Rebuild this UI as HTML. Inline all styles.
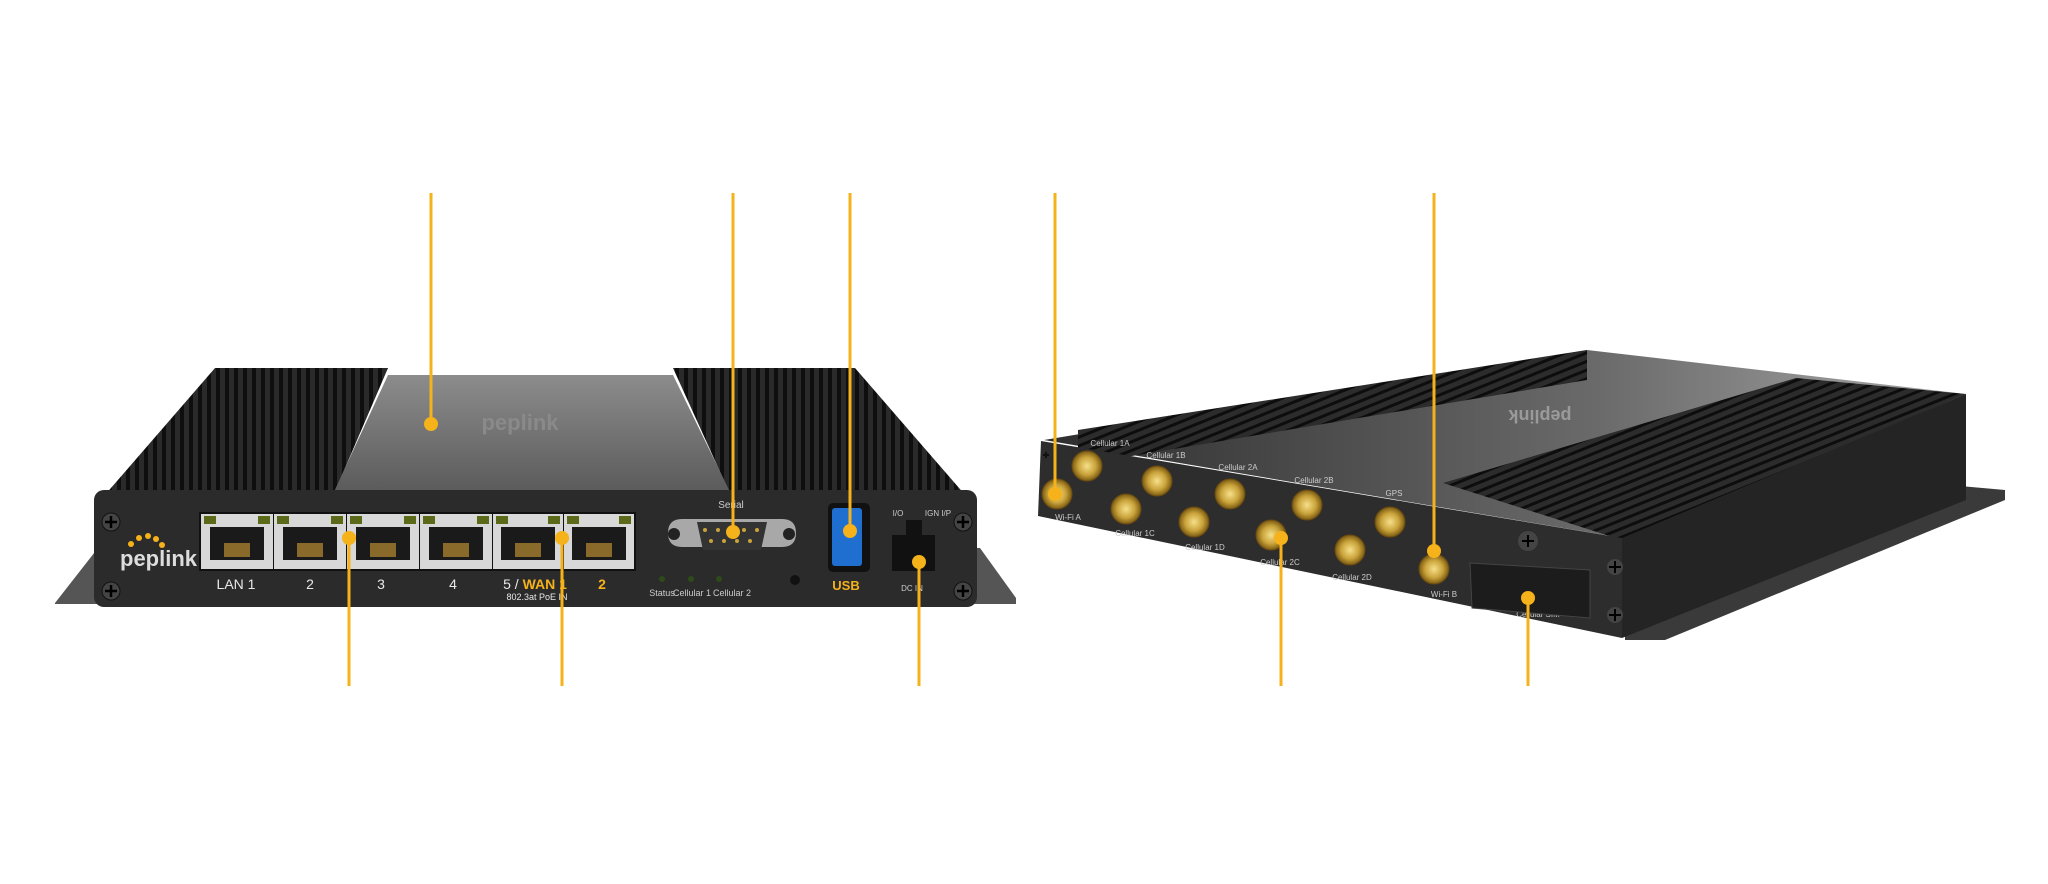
<!DOCTYPE html>
<html><head><meta charset="utf-8"><style>
html,body{margin:0;padding:0;background:#fff;}
svg{display:block;font-family:"Liberation Sans",sans-serif;}
</style></head><body>
<svg width="2048" height="884" viewBox="0 0 2048 884" xmlns="http://www.w3.org/2000/svg">
<defs>
<pattern id="fin" width="9" height="10" patternUnits="userSpaceOnUse"><rect width="9" height="10" fill="#2a2a2a"/><rect width="4" height="10" fill="#0e0e0e"/></pattern>
<pattern id="fin2" width="10" height="8" patternUnits="userSpaceOnUse" patternTransform="rotate(-22)"><rect width="10" height="8" fill="#2c2c2c"/><rect width="10" height="3" fill="#0d0d0d"/></pattern>
<linearGradient id="cover" x1="0" y1="0" x2="0" y2="1"><stop offset="0" stop-color="#8c8c8c"/><stop offset="1" stop-color="#5a5a5a"/></linearGradient>
<linearGradient id="top2" x1="0" y1="0" x2="1" y2="0"><stop offset="0" stop-color="#2e2e2e"/><stop offset="0.6" stop-color="#6a6a6a"/><stop offset="1" stop-color="#a8a8a8"/></linearGradient>
<radialGradient id="gold"><stop offset="0" stop-color="#f6e08a"/><stop offset="0.6" stop-color="#c9a23a"/><stop offset="1" stop-color="#7a5a12"/></radialGradient>
</defs>

<!-- LEFT DEVICE -->
<polygon points="55,603 98,548 980,548 1016,598 1016,604 55,604" fill="#555"/>
<polygon points="215,368 388,368 333,496 104,496" fill="url(#fin)"/>
<polygon points="673,368 855,368 966,496 731,496" fill="url(#fin)"/>
<polygon points="388,375 673,375 731,494 333,494" fill="url(#cover)"/>
<text x="520" y="430" font-size="22" font-weight="bold" fill="#8a8a8a" text-anchor="middle">peplink</text>
<rect x="94" y="490" width="883" height="117" rx="10" fill="#2b2b2b"/>
<!-- screws -->
<g fill="#444" stroke="#111" stroke-width="1">
<circle cx="111" cy="522" r="9"/><circle cx="111" cy="591" r="9"/><circle cx="963" cy="522" r="9"/><circle cx="963" cy="591" r="9"/></g>
<g stroke="#000" stroke-width="2.5"><path d="M105 522h12M111 516v12M105 591h12M111 585v12M957 522h12M963 516v12M957 591h12M963 585v12"/></g>
<!-- logo -->
<g fill="#f5b21a"><circle cx="131" cy="544" r="3"/><circle cx="139" cy="538" r="3"/><circle cx="148" cy="536" r="3"/><circle cx="156" cy="539" r="3"/><circle cx="162" cy="545" r="3"/></g>
<text x="120" y="566" font-size="22" font-weight="bold" fill="#ddd">peplink</text>
<!-- ports -->
<rect x="199" y="512" width="437" height="59" fill="#111"/>
<g id="ports">
<rect x="201" y="514" width="72" height="55" fill="#d8d8d8"/>
<rect x="274" y="514" width="72" height="55" fill="#d8d8d8"/>
<rect x="347" y="514" width="72" height="55" fill="#d8d8d8"/>
<rect x="420" y="514" width="72" height="55" fill="#d8d8d8"/>
<rect x="493" y="514" width="70" height="55" fill="#d8d8d8"/>
<rect x="564" y="514" width="70" height="55" fill="#d8d8d8"/>
</g>
<g fill="#1a1a1a">
<rect x="210" y="527" width="54" height="33"/><rect x="283" y="527" width="54" height="33"/><rect x="356" y="527" width="54" height="33"/><rect x="429" y="527" width="54" height="33"/><rect x="501" y="527" width="54" height="33"/><rect x="572" y="527" width="54" height="33"/></g>
<g fill="#5a6a18">
<rect x="204" y="516" width="12" height="8"/><rect x="258" y="516" width="12" height="8"/><rect x="277" y="516" width="12" height="8"/><rect x="331" y="516" width="12" height="8"/><rect x="350" y="516" width="12" height="8"/><rect x="404" y="516" width="12" height="8"/><rect x="423" y="516" width="12" height="8"/><rect x="477" y="516" width="12" height="8"/><rect x="496" y="516" width="12" height="8"/><rect x="548" y="516" width="12" height="8"/><rect x="567" y="516" width="12" height="8"/><rect x="619" y="516" width="12" height="8"/></g>
<g fill="#8a6a2a"><rect x="224" y="543" width="26" height="14"/><rect x="297" y="543" width="26" height="14"/><rect x="370" y="543" width="26" height="14"/><rect x="443" y="543" width="26" height="14"/><rect x="515" y="543" width="26" height="14"/><rect x="586" y="543" width="26" height="14"/></g>
<g font-size="14" fill="#e8e8e8" text-anchor="middle">
<text x="236" y="589">LAN 1</text><text x="310" y="589">2</text><text x="381" y="589">3</text><text x="453" y="589">4</text>
<text x="535" y="589">5 / <tspan fill="#f5b21a" font-weight="bold">WAN 1</tspan></text><text x="602" y="589" fill="#f5b21a" font-weight="bold">2</text>
<text x="537" y="600" font-size="9">802.3at PoE IN</text>
<text x="731" y="508" font-size="10" fill="#ccc">Serial</text>
<text x="662" y="596" font-size="9" fill="#ccc">Status</text><text x="692" y="596" font-size="9" fill="#ccc">Cellular 1</text><text x="732" y="596" font-size="9" fill="#ccc">Cellular 2</text>
<text x="846" y="590" font-size="13" font-weight="bold" fill="#f5b21a">USB</text>
<text x="898" y="516" font-size="8" fill="#ccc">I/O</text><text x="938" y="516" font-size="8" fill="#ccc">IGN I/P</text>
<text x="912" y="591" font-size="8" fill="#ccc">DC IN</text>
</g>
<!-- serial -->
<path d="M668 533 q0-14 14-14 h100 q14 0 14 14 q0 14-14 14 h-100 q-14 0-14-14z" fill="#a8a8a8"/>
<circle cx="674" cy="534" r="6" fill="#222"/><circle cx="789" cy="534" r="6" fill="#222"/>
<path d="M697 522 h70 l-6 28 h-58z" fill="#333"/>
<g fill="#c9a23a"><circle cx="705" cy="530" r="2"/><circle cx="718" cy="530" r="2"/><circle cx="731" cy="530" r="2"/><circle cx="744" cy="530" r="2"/><circle cx="757" cy="530" r="2"/><circle cx="711" cy="541" r="2"/><circle cx="724" cy="541" r="2"/><circle cx="737" cy="541" r="2"/><circle cx="750" cy="541" r="2"/></g>
<g fill="#2f4a1a"><circle cx="662" cy="579" r="3"/><circle cx="691" cy="579" r="3"/><circle cx="719" cy="579" r="3"/></g>
<circle cx="795" cy="580" r="5" fill="#111"/>
<!-- usb -->
<rect x="828" y="503" width="42" height="69" rx="5" fill="#111"/>
<rect x="832" y="508" width="30" height="58" rx="3" fill="#1f6fd0"/>
<!-- dc -->
<rect x="906" y="520" width="16" height="16" fill="#111"/>
<rect x="892" y="535" width="43" height="36" fill="#111"/>

<!-- RIGHT DEVICE -->
<polygon points="1625,595 1960,486 2005,490 2005,500 1665,640 1625,640" fill="#3a3a3a"/>
<polygon points="1044,440 1587,350 1966,394 1622,538" fill="url(#top2)"/>
<polygon points="1078,430 1587,350 1587,380 1078,465" fill="url(#fin2)"/>
<polygon points="1443,483 1796,378 1966,394 1622,540" fill="url(#fin2)"/>
<text x="1540" y="410" font-size="18" font-weight="bold" fill="#9a9a9a" transform="rotate(180 1540 410)" text-anchor="middle">peplink</text>
<polygon points="1041,441 1622,538 1622,638 1038,516" fill="#2d2d2d"/>
<polygon points="1622,538 1966,394 1966,500 1622,638" fill="#242424"/>
<g fill="none" stroke="#111" stroke-width="2"><path d="M1046 452v6M1043 455h6"/><path d="M1615 562v10M1610 567h10M1615 610v10M1610 615h10"/></g>
<g fill="#444"><circle cx="1615" cy="567" r="8"/><circle cx="1615" cy="615" r="8"/><circle cx="1528" cy="541" r="10"/></g>
<g stroke="#000" stroke-width="2"><path d="M1609 567h12M1615 561v12M1609 615h12M1615 609v12M1522 541h12M1528 535v12"/></g>
<!-- antennas -->
<g fill="url(#gold)" stroke="#6a4a10" stroke-width="1">
<circle cx="1057" cy="494" r="15"/><circle cx="1087" cy="466" r="15"/><circle cx="1157" cy="481" r="15"/><circle cx="1126" cy="509" r="15"/><circle cx="1194" cy="522" r="15"/><circle cx="1230" cy="494" r="15"/><circle cx="1307" cy="505" r="15"/><circle cx="1271" cy="535" r="15"/><circle cx="1350" cy="550" r="15"/><circle cx="1390" cy="522" r="15"/><circle cx="1434" cy="569" r="15"/></g>
<g font-size="8" fill="#ccc" text-anchor="middle">
<text x="1068" y="520">Wi-Fi A</text><text x="1110" y="446">Cellular 1A</text><text x="1166" y="458">Cellular 1B</text><text x="1135" y="536">Cellular 1C</text><text x="1205" y="550">Cellular 1D</text><text x="1238" y="470">Cellular 2A</text><text x="1314" y="483">Cellular 2B</text><text x="1280" y="565">Cellular 2C</text><text x="1352" y="580">Cellular 2D</text><text x="1394" y="496">GPS</text><text x="1444" y="597">Wi-Fi B</text><text x="1538" y="617">Cellular SIM</text></g>
<!-- SIM door -->
<polygon points="1470,563 1590,570 1590,618 1472,608" fill="#1c1c1c" stroke="#444" stroke-width="1"/>

<!-- LEADERS -->
<g stroke="#f5b21a" stroke-width="3" fill="none">
<path d="M431 193V424M733 193V532M850 193V529M1055 193V494M1434 193V551"/>
<path d="M349 538V686M562 538V686M919 562V686M1281 538V686M1528 598V686"/>
</g>
<g fill="#f5b21a">
<circle cx="431" cy="424" r="7"/><circle cx="733" cy="532" r="7"/><circle cx="850" cy="531" r="7"/><circle cx="1055" cy="494" r="7"/><circle cx="1434" cy="551" r="7"/>
<circle cx="349" cy="538" r="7"/><circle cx="562" cy="538" r="7"/><circle cx="919" cy="562" r="7"/><circle cx="1281" cy="538" r="7"/><circle cx="1528" cy="598" r="7"/>
</g>
</svg>
</body></html>
